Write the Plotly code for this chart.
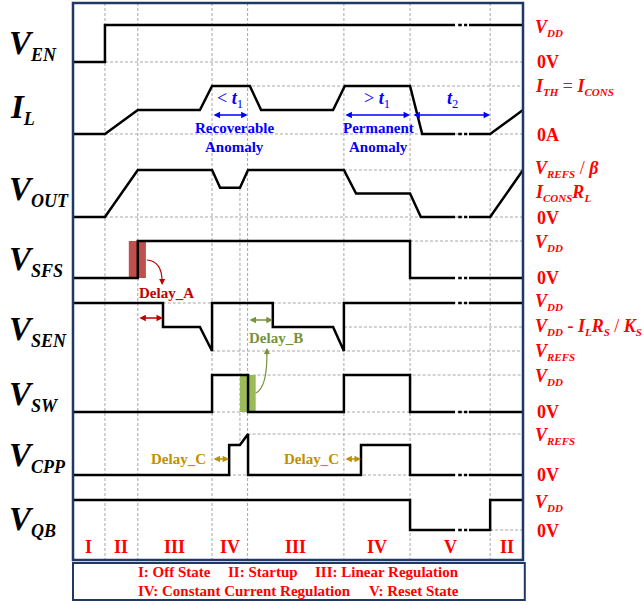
import plotly.graph_objects as go

# ---------------------------------------------------------------- data
# phase boundaries on the time axis (0 .. 100 spans the diagram)
PHASE_EDGES = [0, 7.1, 14.4, 30.9, 38.8, 60.2, 74.9, 92.7, 100]
PHASE_NAMES = ["I", "II", "III", "IV", "III", "IV", "V", "II"]

# waveforms: time points and normalised level (0 = low rail, 1 = high rail)
EN_T = [0, 7.1, 7.1, 100]
EN_L = [0, 0, 1, 1]

IL_T = [0, 7.1, 14.4, 28.2, 30.9, 39.3, 41.8, 57.8, 60.4, 74.9, 77.6, 92.7, 100]
IL_L = [0, 0, 0.5, 0.5, 1, 1, 0.5, 0.5, 1, 1, 0, 0, 0.5]

OUT_T = [0, 7.1, 14.4, 30.9, 32.7, 37.1, 38.9, 60.2, 62.9, 74.9, 77.3, 92.7, 100]
OUT_L = [0, 0, 1, 1, 0.62, 0.62, 1, 1, 0.5, 0.5, 0, 0, 1]

SFS_T = [0, 14.4, 14.4, 74.9, 74.9, 100]
SFS_L = [0, 0, 1, 1, 0, 0]

SEN_T = [0, 20.0, 20.0, 28.2, 30.9, 30.9, 44.4, 44.4, 57.8, 60.2, 60.2, 100]
SEN_L = [1, 1, 0.5, 0.5, 0, 1, 1, 0.5, 0.5, 0, 1, 1]

SW_T = [0, 30.9, 30.9, 38.9, 38.9, 60.2, 60.2, 74.9, 74.9, 100]
SW_L = [0, 0, 1, 1, 0, 0, 1, 1, 0, 0]

CPP_T = [0, 34.7, 34.7, 37.1, 38.9, 38.9, 64.0, 64.0, 74.9, 74.9, 100]
CPP_L = [0, 0, 0.73, 0.73, 1, 0, 0, 0.73, 0.73, 0, 0]

QB_T = [0, 74.9, 74.9, 92.7, 92.7, 100]
QB_L = [1, 1, 0, 0, 1, 1]

# time-axis break (dash-dot gap) drawn in every trace
BREAK_START, BREAK_END = 84.9, 88.0
BREAK_DASHES = [(85.6, 86.4), (86.9, 87.6)]

# delay windows (start edge, end edge)
DELAY_A = (SFS_T[1], SEN_T[1])
DELAY_B = (SW_T[3], SEN_T[6])
DELAY_C = [(PHASE_EDGES[3], CPP_T[1]), (PHASE_EDGES[5], CPP_T[6])]

# anomaly timing spans
SPAN_T1_SHORT = (PHASE_EDGES[3], PHASE_EDGES[4])
SPAN_T1_LONG = (PHASE_EDGES[5], PHASE_EDGES[6])
SPAN_T2 = (PHASE_EDGES[6], PHASE_EDGES[7])

# ---------------------------------------------------------------- layout
SERIF = "Liberation Serif"
RED = "#FF0000"
DARK_RED = "#C00000"
BLUE = "#0000FF"
GREEN = "#76923C"
GOLD = "#BF9000"
NAVY = "#1F3864"
GRID = "#A6A6A6"

# rows: (y of low rail, y of high rail) in page pixels
ROWS = {
    "EN": (62, 25), "IL": (134, 86), "OUT": (217, 170), "SFS": (278, 241),
    "SEN": (351, 303), "SW": (412, 375), "CPP": (475, 434), "QB": (530, 500),
}
WAVES = [("EN", EN_T, EN_L), ("IL", IL_T, IL_L), ("OUT", OUT_T, OUT_L),
         ("SFS", SFS_T, SFS_L), ("SEN", SEN_T, SEN_L), ("SW", SW_T, SW_L),
         ("CPP", CPP_T, CPP_L), ("QB", QB_T, QB_L)]

PX_PER_T = 4.5
X0_PX = 73
W, H = 644, 605


def level_y(row, lv):
    lo, hi = ROWS[row]
    return lo + lv * (hi - lo)


def with_break(ts, ys):
    xs_out, ys_out = [], []
    for i, (t, y) in enumerate(zip(ts, ys)):
        xs_out.append(t)
        ys_out.append(y)
        if i + 1 < len(ts) and t <= BREAK_START and ts[i + 1] >= BREAK_END:
            xs_out += [BREAK_START, None]
            ys_out += [y, None]
            for a, b in BREAK_DASHES:
                xs_out += [a, b, None]
                ys_out += [y, y, None]
            xs_out.append(BREAK_END)
            ys_out.append(y)
    return xs_out, ys_out


fig = go.Figure()

# waveforms
for row, ts, lv in WAVES:
    ys = [level_y(row, v) for v in lv]
    bx, by = with_break(ts, ys)
    fig.add_trace(go.Scatter(x=bx, y=by, mode="lines",
                             line=dict(color="black", width=2.5),
                             hoverinfo="skip", showlegend=False))

shapes = []
# phase boundaries
for t in PHASE_EDGES[1:-1]:
    shapes.append(dict(type="line", xref="x", yref="y", x0=t, x1=t, y0=3, y1=560,
                       line=dict(color=GRID, width=1, dash="3px,2px"), layer="below"))
# VOUT dip / CPP ramp marker
shapes.append(dict(type="line", xref="x", yref="y", x0=OUT_T[5], x1=OUT_T[5],
                   y0=level_y("OUT", OUT_L[5]), y1=level_y("CPP", CPP_L[3]),
                   line=dict(color=GRID, width=1, dash="3px,2px"), layer="below"))

# level reference lines: (row, level, start time)
REF_LINES = [("EN", 0, 7.1), ("IL", 1, 30.9), ("IL", 0, 7.1), ("OUT", 1, 60.2),
             ("OUT", 0, 7.1), ("SFS", 1, 74.9), ("SEN", 1, 14.4), ("SEN", 0.5, 60.2),
             ("SEN", 0, 30.9), ("SW", 1, 38.8), ("SW", 0, 30.9), ("CPP", 1, 38.8),
             ("CPP", 0, 0), ("QB", 0, 92.7)]
for row, lv, t0 in REF_LINES:
    y = level_y(row, lv)
    shapes.append(dict(type="line", xref="x", yref="y", x0=t0, x1=100, y0=y, y1=y,
                       line=dict(color=GRID, width=1, dash="3px,2px"), layer="below"))

# delay highlight bars
shapes.append(dict(type="rect", xref="x", yref="y", x0=12.4, x1=16.2,
                   y0=level_y("SFS", 1), y1=level_y("SFS", 0),
                   fillcolor="#C0504D", line=dict(width=0), layer="below"))
shapes.append(dict(type="rect", xref="x", yref="y", x0=37.1, x1=40.6,
                   y0=level_y("SW", 1), y1=level_y("SW", 0),
                   fillcolor="#9BBB59", line=dict(width=0), layer="below"))

# curved pointers
shapes.append(dict(type="path", xref="x", yref="y",
                   path="M 16.4,260 Q 19.8,261 19.8,282",
                   line=dict(color=DARK_RED, width=1.2)))
shapes.append(dict(type="path", xref="x", yref="y",
                   path="M 40.6,393 Q 43.2,388 43.1,351",
                   line=dict(color=GREEN, width=1.2)))

# frames
shapes.append(dict(type="rect", xref="x", yref="y", x0=0, x1=100, y0=3, y1=560,
                   line=dict(color=NAVY, width=2.5)))
shapes.append(dict(type="rect", xref="x", yref="y", x0=0, x1=100.4, y0=563, y1=600,
                   line=dict(color=NAVY, width=2)))

ann = []


def arrow(t0, t1, y, color, width=1.3, size=1.0, head=2):
    ann.append(dict(x=t1, y=y, ax=t0, ay=y, xref="x", yref="y", axref="x", ayref="y",
                    text="", showarrow=True, arrowhead=head, startarrowhead=head,
                    arrowside="end+start", arrowsize=size, arrowwidth=width,
                    arrowcolor=color))


def text(x, y, s, size, color, xanchor="center", yanchor="middle"):
    ann.append(dict(x=x, y=y, xref="x", yref="y", text=s, showarrow=False,
                    xanchor=xanchor, yanchor=yanchor, borderpad=0, borderwidth=0,
                    font=dict(family=SERIF, size=size, color=color)))


def sub(s, size=11):
    return f"<sub><span style='font-size:{size}px'>{s}</span></sub>"


def bi(s):
    return f"<b><i>{s}</i></b>"


def px_t(px):
    return (px - X0_PX) / PX_PER_T


# anomaly spans
arrow(*SPAN_T1_SHORT, 115, BLUE)
arrow(*SPAN_T1_LONG, 115, BLUE)
arrow(SPAN_T2[0] + 0.4, SPAN_T2[1], 115, BLUE)
text(sum(SPAN_T1_SHORT) / 2, 99, "&lt; " + bi("t") + "<sub>1</sub>", 18, BLUE)
text(sum(SPAN_T1_LONG) / 2, 99, "&gt; " + bi("t") + "<sub>1</sub>", 18, BLUE)
text(sum(SPAN_T2) / 2 + 0.6, 99, bi("t") + "<sub>2</sub>", 18, BLUE)
text(px_t(234.5), 128, "<b>Recoverable</b>", 15, BLUE)
text(px_t(234.5), 147, "<b>Anomaly</b>", 15, BLUE)
text(px_t(378), 128, "<b>Permanent</b>", 15, BLUE)
text(px_t(378), 147, "<b>Anomaly</b>", 15, BLUE)

# delays
arrow(*DELAY_A, 318, DARK_RED)
ann.append(dict(x=19.8, y=285, ax=19.8, ay=278, xref="x", yref="y", axref="x", ayref="y",
                text="", showarrow=True, arrowhead=2, arrowsize=1, arrowwidth=1.2,
                arrowcolor=DARK_RED))
text(px_t(166.5), 293, "<b>Delay_A</b>", 15, DARK_RED)
arrow(*DELAY_B, 320, GREEN)
ann.append(dict(x=43.1, y=348, ax=43.1, ay=356, xref="x", yref="y", axref="x", ayref="y",
                text="", showarrow=True, arrowhead=2, arrowsize=1, arrowwidth=1.2,
                arrowcolor=GREEN))
text(px_t(276), 338, "<b>Delay_B</b>", 15, GREEN)
for (a, b), cx in zip(DELAY_C, [178.5, 311.5]):
    arrow(a, b, 459, GOLD)
    text(px_t(cx), 459, "<b>Delay_C</b>", 15, GOLD)

# phase names
for i, name in enumerate(PHASE_NAMES):
    text((PHASE_EDGES[i] + PHASE_EDGES[i + 1]) / 2, 547, f"<b>{name}</b>", 18, RED)

# phase legend
LEGEND_ITEMS = [("I: Off State", 138, 572), ("II: Startup", 228, 572),
                ("III: Linear Regulation", 315, 572),
                ("IV: Constant Current Regulation", 138, 591), ("V: Reset State", 369, 591)]
for s, x, y in LEGEND_ITEMS:
    text(px_t(x), y, f"<b>{s}</b>", 15, RED, xanchor="left")

# signal names on the left: (symbol, subscript, centre y)
SIGNAL_NAMES = [("V", "EN", 45), ("I", "L", 109), ("V", "OUT", 191),
                ("V", "SFS", 261), ("V", "SEN", 331), ("V", "SW", 396),
                ("V", "CPP", 457), ("V", "QB", 521)]
for main, sb, y in SIGNAL_NAMES:
    s = bi(main) + sub(bi(sb), 18)
    text(px_t(9 if main == "V" else 10), y, s, 33, "black", xanchor="left")

# rail names on the right
V = bi("V")
I = bi("I")
R = bi("R")
K = bi("K")
RAIL_NAMES = [
    (28, V + sub(bi("DD"))), (62, "<b>0V</b>"),
    (87, I + sub(bi("TH")) + " = " + I + sub(bi("CONS"))), (135, "<b>0A</b>"),
    (169, V + sub(bi("REFS")) + " / " + bi("β")),
    (193, I + sub(bi("CONS")) + R + sub(bi("L"))), (218, "<b>0V</b>"),
    (243, V + sub(bi("DD"))), (278, "<b>0V</b>"),
    (302, V + sub(bi("DD"))),
    (327, V + sub(bi("DD")) + " <b>-</b> " + I + sub(bi("L")) + R + sub(bi("S")) + " / " + K + sub(bi("S"))),
    (352, V + sub(bi("REFS"))), (377, V + sub(bi("DD"))), (412, "<b>0V</b>"),
    (436, V + sub(bi("REFS"))), (475, "<b>0V</b>"), (503, V + sub(bi("DD"))),
    (531, "<b>0V</b>"),
]
for y, s in RAIL_NAMES:
    x = px_t(537) if s.startswith("<b>0") else px_t(535)
    text(x, y, s, 18, RED, xanchor="left")

fig.update_layout(
    width=W, height=H, margin=dict(l=0, r=0, t=0, b=0),
    paper_bgcolor="white", plot_bgcolor="white",
    xaxis=dict(range=[px_t(0), px_t(W)], visible=False, fixedrange=True),
    yaxis=dict(range=[H, 0], visible=False, fixedrange=True),
    shapes=shapes, annotations=ann, showlegend=False,
)

fig.write_html("out.html")
